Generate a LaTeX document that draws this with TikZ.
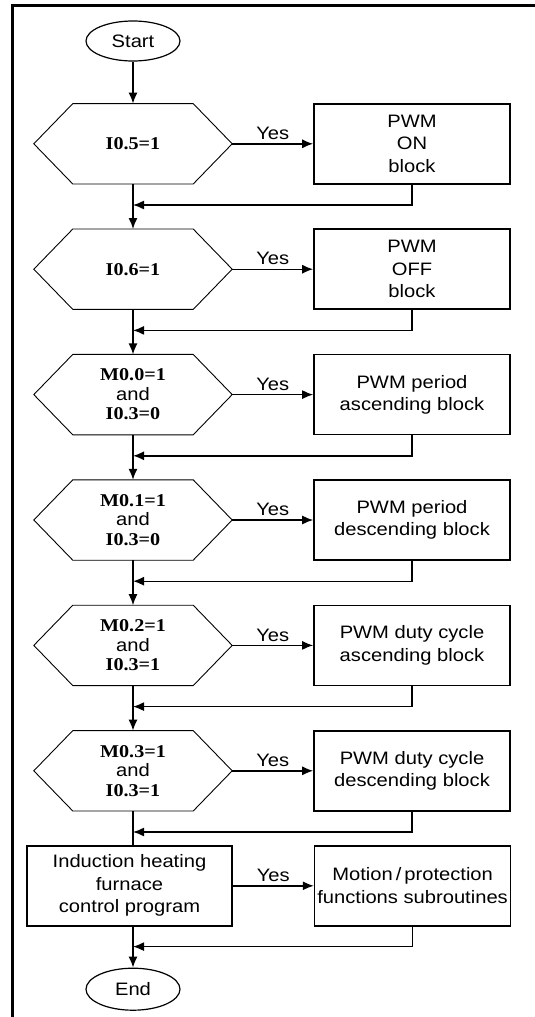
\documentclass[tikz,border=0pt]{standalone}
\usepackage{fontspec}
\setmainfont{Liberation Sans}[FakeStretch=1.12]
\newfontfamily\condfont{Liberation Serif}[FakeStretch=1.12]
\usetikzlibrary{shapes.geometric, arrows.meta, positioning}

\begin{document}
\begin{tikzpicture}[x=1pt, y=1pt, node distance=45pt, >={Latex[length=11pt,width=9pt]},
    every node/.style={font=\fontsize{18}{22.5}\selectfont},
    startstop/.style={draw, ellipse, line width=1.2pt, minimum width=94pt, minimum height=40pt, inner sep=0pt},
    decision/.style={rectangle, minimum width=198pt, minimum height=80pt, inner sep=0pt, align=center,
        font=\condfont\bfseries\fontsize{18}{19.5}\selectfont,
        append after command={\pgfextra{\draw[line width=0.9pt] (\tikzlastnode.west)
            -- ([xshift=39pt]\tikzlastnode.north west) -- ([xshift=-39pt]\tikzlastnode.north east)
            -- (\tikzlastnode.east) -- ([xshift=-39pt]\tikzlastnode.south east)
            -- ([xshift=39pt]\tikzlastnode.south west) -- cycle;}}},
    block/.style={draw, rectangle, line width=1.6pt, minimum width=196pt, minimum height=80pt, inner sep=2pt, align=center},
    flow/.style={line width=1.4pt}]
    \useasboundingbox (0,0) rectangle (535,-1017);
    \draw[line width=3pt] (12,-1017) -- (12,-5) -- (535,-5);

    \node [startstop] (start) at (133,-41) {Start};
    \node [decision, below=42pt of start] (c1) {I0.5=1};
    \node [block, right=81pt of c1] (b1) {PWM\\ON\\block};
    \node [decision, below=of c1] (c2) {I0.6=1};
    \node [block, right=81pt of c2] (b2) {PWM\\OFF\\block};
    \node [decision, below=of c2] (c3) {M0.0=1\\{\normalfont and}\\I0.3=0};
    \node [block, right=81pt of c3] (b3) {PWM period\\ascending block};
    \node [decision, below=of c3] (c4) {M0.1=1\\{\normalfont and}\\I0.3=0};
    \node [block, right=81pt of c4] (b4) {PWM period\\descending block};
    \node [decision, below=of c4] (c5) {M0.2=1\\{\normalfont and}\\I0.3=1};
    \node [block, right=81pt of c5] (b5) {PWM duty cycle\\ascending block};
    \node [decision, below=of c5] (c6) {M0.3=1\\{\normalfont and}\\I0.3=1};
    \node [block, right=81pt of c6] (b6) {PWM duty cycle\\descending block};
    \node [block, minimum width=205pt, below=34pt of c6, xshift=-3.5pt] (ctrl) {Induction heating\\furnace\\control program};
    \node [block, right=81pt of ctrl] (sub) {Motion\,/\,protection\\functions subroutines};
    \node [startstop, minimum height=42pt, below=41pt of c6 |- ctrl.south] (end) {End};

    \coordinate [below=21pt of c1] (j1);
    \coordinate [below=21pt of c2] (j2);
    \coordinate [below=21pt of c3] (j3);
    \coordinate [below=21pt of c4] (j4);
    \coordinate [below=21pt of c5] (j5);
    \coordinate [below=21pt of c6] (j6);
    \coordinate [below=20pt of c6 |- ctrl.south] (j7);

    \draw[flow, ->] (start) -- (c1);
    \draw[flow, ->] (c1) -- node[above] {Yes} (b1);
    \draw[flow, ->] (b1) |- (j1);
    \draw[flow, ->] (c1) -- (c2);
    \draw[flow, ->] (c2) -- node[above] {Yes} (b2);
    \draw[flow, ->] (b2) |- (j2);
    \draw[flow, ->] (c2) -- (c3);
    \draw[flow, ->] (c3) -- node[above] {Yes} (b3);
    \draw[flow, ->] (b3) |- (j3);
    \draw[flow, ->] (c3) -- (c4);
    \draw[flow, ->] (c4) -- node[above] {Yes} (b4);
    \draw[flow, ->] (b4) |- (j4);
    \draw[flow, ->] (c4) -- (c5);
    \draw[flow, ->] (c5) -- node[above] {Yes} (b5);
    \draw[flow, ->] (b5) |- (j5);
    \draw[flow, ->] (c5) -- (c6);
    \draw[flow, ->] (c6) -- node[above] {Yes} (b6);
    \draw[flow, ->] (b6) |- (j6);
    \draw[flow] (c6) -- (c6 |- ctrl.north);
    \draw[flow, ->] (ctrl) -- node[above] {Yes} (sub);
    \draw[flow, ->] (sub) |- (j7);
    \draw[flow, ->] (c6 |- ctrl.south) -- (end);
\end{tikzpicture}
\end{document}
